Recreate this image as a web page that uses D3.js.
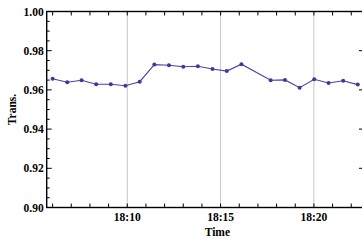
<!DOCTYPE html>
<html><head><meta charset="utf-8">
<script src="https://cdn.jsdelivr.net/npm/d3@7"></script>
<style>body{margin:0;background:#fff}svg{display:block}</style>
</head><body>
<svg id="c" width="362" height="240"></svg>
<script>
const times = ["18:06:00","18:06:47","18:07:33","18:08:20","18:09:07","18:09:54","18:10:40","18:11:27","18:12:14","18:13:00","18:13:47","18:14:34","18:15:20","18:16:07","18:17:41","18:18:27","18:19:14","18:20:01","18:20:47","18:21:34","18:22:21"];
const trans = [0.9657,0.9639,0.9649,0.9629,0.9629,0.9621,0.9642,0.9729,0.9726,0.9718,0.9721,0.9707,0.9696,0.9731,0.9649,0.9651,0.9611,0.9654,0.9635,0.9647,0.9627];
const yTicks = [0.90,0.92,0.94,0.96,0.98,1.00];
const xTickLabels = ["18:10","18:15","18:20"];
const xDomain = ["18:05:41","18:22:41"];

const parse = d3.timeParse("%H:%M:%S");
const parseHM = d3.timeParse("%H:%M");
const data = times.map((t,i)=>({t:parse(t), v:trans[i]}));

const L=46.7, R=364, T=11.5, B=207.5;
const svg = d3.select("#c");
const x = d3.scaleTime().domain(xDomain.map(parse)).range([L,R]);
const y = d3.scaleLinear().domain([0.90,1.00]).range([B,T]);
const font = "'Liberation Serif','Times New Roman',serif";
const fs = 11.5;

// gridlines
svg.append("g").selectAll("line").data(xTickLabels.map(parseHM)).join("line")
  .attr("x1",d=>x(d)).attr("x2",d=>x(d)).attr("y1",T).attr("y2",B)
  .attr("stroke","#c8c8c8").attr("stroke-width",1);

// ticks
const minuteTicks = d3.timeMinute.range(x.domain()[0], x.domain()[1]);
const tk = svg.append("g").attr("stroke","#000").attr("stroke-width",1);
minuteTicks.forEach(m=>{
  tk.append("line").attr("x1",x(m)).attr("x2",x(m)).attr("y1",B).attr("y2",B-4);
  tk.append("line").attr("x1",x(m)).attr("x2",x(m)).attr("y1",T).attr("y2",T+4);
});
const yMinor = d3.range(0.90,1.0001,0.005);
yMinor.forEach(v=>{
  const major = yTicks.some(t=>Math.abs(t-v)<1e-6);
  tk.append("line").attr("x1",L).attr("x2",L+(major?5:3)).attr("y1",y(v)).attr("y2",y(v));
  if(major) tk.append("line").attr("x1",R).attr("x2",R-5).attr("y1",y(v)).attr("y2",y(v));
});

// frame
svg.append("rect").attr("x",L).attr("y",T).attr("width",R-L).attr("height",B-T)
  .attr("fill","none").attr("stroke","#000").attr("stroke-width",1.4);

// labels
svg.append("g").selectAll("text").data(yTicks).join("text")
  .attr("x",L-3).attr("y",d=>y(d)).attr("dy","0.35em").attr("text-anchor","end")
  .attr("font-family",font).attr("font-weight","bold").attr("font-size",fs)
  .text(d=>d.toFixed(2));
svg.append("g").selectAll("text").data(xTickLabels).join("text")
  .attr("x",d=>x(parseHM(d))).attr("y",B+13).attr("text-anchor","middle")
  .attr("font-family",font).attr("font-weight","bold").attr("font-size",fs)
  .text(d=>d);
svg.append("text").attr("x",(L+R)/2+12).attr("y",236).attr("text-anchor","middle")
  .attr("font-family",font).attr("font-weight","bold").attr("font-size",fs).text("Time");
svg.append("text").attr("transform",`translate(16,${(T+B)/2}) rotate(-90)`).attr("text-anchor","middle")
  .attr("font-family",font).attr("font-weight","bold").attr("font-size",fs).text("Trans.");

// series
const line = d3.line().x(d=>x(d.t)).y(d=>y(d.v));
svg.append("path").datum(data).attr("d",line).attr("fill","none")
  .attr("stroke","#4545a5").attr("stroke-width",1.1);
svg.append("g").selectAll("circle").data(data).join("circle")
  .attr("cx",d=>x(d.t)).attr("cy",d=>y(d.v)).attr("r",2).attr("fill","#3a3a9c");
</script>
</body></html>
